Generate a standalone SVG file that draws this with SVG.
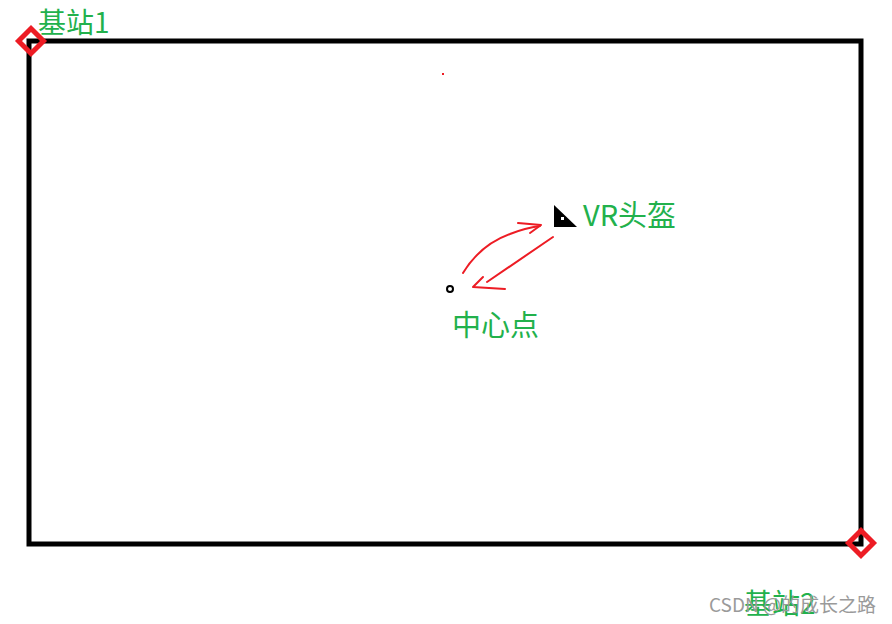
<svg xmlns="http://www.w3.org/2000/svg" width="892" height="624" viewBox="0 0 892 624">
<style>
.lbl{font-family:"Noto Sans CJK SC","Liberation Sans",sans-serif;font-size:29px;fill:#22B14C}
.st{fill:none;stroke:#ED1C24;stroke-width:5}
.arr{fill:none;stroke:#ED1C24;stroke-width:2;stroke-linecap:round;stroke-linejoin:round}
.wm{font-family:"Noto Sans CJK SC","Liberation Sans",sans-serif;font-size:19px;fill:#9a9a9a}
</style>
<rect width="892" height="624" fill="#ffffff"/>
<g id="room">
<rect x="29" y="41" width="832" height="503" fill="none" stroke="#000" stroke-width="5"/>
</g>
<g id="station1">
<path class="st" d="M31 28.5 L43.5 41 L31 53.5 L18.5 41 Z"/>
<text class="lbl" x="38" y="33" style="font-size:28px">基站1</text>
</g>
<g id="station2">
<path class="st" d="M861 530.5 L873.5 543 L861 555.5 L848.5 543 Z"/>
<text class="lbl" x="744" y="614" style="font-size:28px">基站2</text>
</g>
<g id="headset">
<path d="M554 205 L554 227 L577 227 Z" fill="#000"/>
<rect x="561" y="217" width="3" height="3" fill="#fff"/>
<text class="lbl" x="583" y="226">VR头盔</text>
</g>
<g id="center">
<circle cx="450" cy="289" r="3" fill="#fff" stroke="#000" stroke-width="2"/>
<text class="lbl" x="452" y="336">中心点</text>
</g>
<g id="connectors">
<path class="arr" d="M463 273 Q480 245 510 234 Q525 228 540 226"/>
<path class="arr" d="M518 223 L541 225 L530 233"/>
<path class="arr" d="M553 237 L487 282"/>
<path class="arr" d="M483 277 L473 287 L505 289"/>
</g>
<rect x="442" y="73" width="2" height="2" fill="#ED1C24"/>
<text class="wm" x="876" y="612" text-anchor="end">CSDN @的成长之路</text>
</svg>
